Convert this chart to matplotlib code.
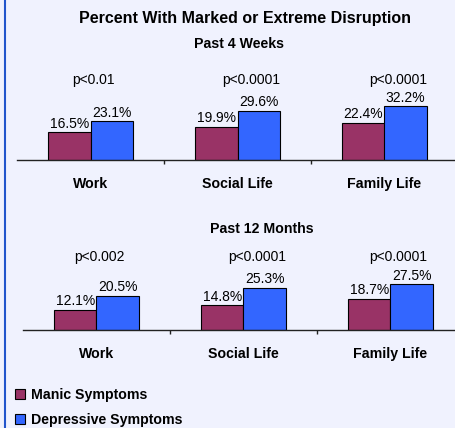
import matplotlib
matplotlib.use('Agg')
import matplotlib.pyplot as plt
from matplotlib.patches import Patch
from matplotlib.lines import Line2D
import numpy as np

plt.rcParams['font.family'] = ['Liberation Sans', 'DejaVu Sans']

# Data
categories = ['Work', 'Social Life', 'Family Life']
weeks_manic = [16.5, 19.9, 22.4]
weeks_depressive = [23.1, 29.6, 32.2]
weeks_p = ['p<0.01', 'p<0.0001', 'p<0.0001']
months_manic = [12.1, 14.8, 18.7]
months_depressive = [20.5, 25.3, 27.5]
months_p = ['p<0.002', 'p<0.0001', 'p<0.0001']
series_names = ['Manic Symptoms', 'Depressive Symptoms']

manic_color = '#993366'
dep_color = '#3366FF'
bg = '#F0F2FE'

W, H = 455, 428
fig = plt.figure(figsize=(W / 100, H / 100), dpi=100, facecolor=bg)


def panel(left_px, base_px, manic, dep, pvals, p_y, p_off):
    ax_h = 100
    ax = fig.add_axes([left_px / W, 1 - base_px / H, 441 / W, ax_h / H])
    ax.set_facecolor('none')
    x = np.arange(len(categories))
    bw = 0.286
    b1 = ax.bar(x - bw / 2, manic, bw, color=manic_color, edgecolor='black', linewidth=0.8)
    b2 = ax.bar(x + bw / 2, dep, bw, color=dep_color, edgecolor='black', linewidth=0.8)
    ax.bar_label(b1, labels=[f'{v:.1f}%' for v in manic], padding=1, fontsize=10)
    ax.bar_label(b2, labels=[f'{v:.1f}%' for v in dep], padding=1, fontsize=10)
    for i, p in enumerate(pvals):
        ax.text(i + p_off[i], p_y, p, ha='center', va='center', fontsize=10)
    ax.set_xlim(-0.5, 2.5)
    ax.set_ylim(0, ax_h / 1.67)
    for s in ['top', 'right', 'left']:
        ax.spines[s].set_visible(False)
    ax.spines['bottom'].set_linewidth(1.0)
    ax.spines['bottom'].set_color('#222222')
    ax.set_yticks([])
    ax.set_xticks(x)
    ax.set_xticklabels(categories, fontsize=10.2, fontweight='bold')
    ax.tick_params(axis='x', which='major', length=0, pad=12)
    ax.set_xticks([0.5, 1.5], minor=True)
    ax.tick_params(axis='x', which='minor', length=3, width=1, direction='out', color='#222222')
    return ax


panel(17, 160, weeks_manic, weeks_depressive, weeks_p, 48, [0.02, 0.09, 0.09])
panel(23, 330, months_manic, months_depressive, months_p, 43.5, [0.02, 0.09, 0.05])

fig.text(245 / W, 1 - 19 / H, 'Percent With Marked or Extreme Disruption',
         ha='center', va='center', fontsize=11.5, fontweight='bold')
fig.text(239 / W, 1 - 44 / H, 'Past 4 Weeks', ha='center', va='center',
         fontsize=10.2, fontweight='bold')
fig.text(262 / W, 1 - 229 / H, 'Past 12 Months', ha='center', va='center',
         fontsize=10.2, fontweight='bold')

handles = [Patch(facecolor=manic_color, edgecolor='black', linewidth=0.8),
           Patch(facecolor=dep_color, edgecolor='black', linewidth=0.8)]
fig.legend(handles, series_names, loc='upper left', bbox_to_anchor=(15 / W, 1 - 388 / H),
           frameon=False, prop={'weight': 'bold', 'size': 10.2},
           handlelength=0.7, handleheight=0.7, handletextpad=0.4,
           labelspacing=0.75, borderaxespad=0, borderpad=0)

# left border
fig.add_artist(Line2D([4.5 / W, 4.5 / W], [0, 1], color='#2255CC', linewidth=1.5))

fig.savefig('out.png', dpi=100, facecolor=bg)
